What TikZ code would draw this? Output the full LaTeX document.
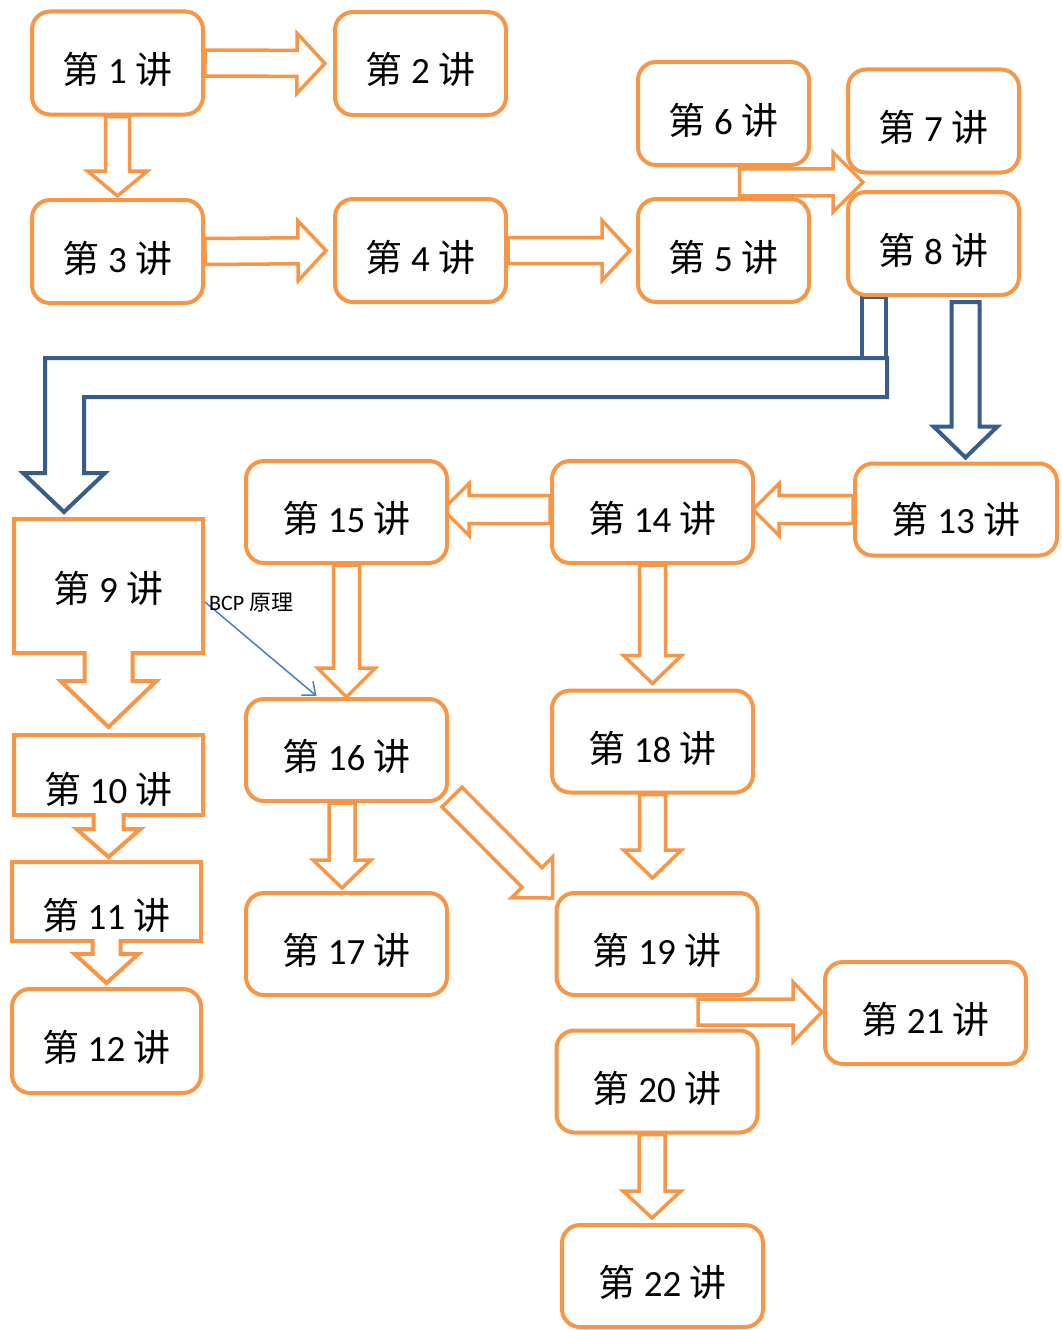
\documentclass[tikz,border=0pt]{standalone}
\usepackage{fontspec}
\setmainfont{Carlito}
\newfontfamily\cjk{Noto Sans CJK SC}
\usetikzlibrary{calc,arrows.meta}
\definecolor{lorange}{HTML}{F79646}
\definecolor{lblue}{HTML}{385D8A}
\definecolor{lthin}{HTML}{4A7EBB}
\newcommand{\jiang}[1]{{\cjk 第} #1 {\cjk 讲}}
\pgfdeclarelayer{bg}
\pgfsetlayers{bg,main}
\tikzset{
  lbox/.style={draw=lorange, line width=4pt, fill=white, rounded corners=18pt,
    minimum width=171pt, minimum height=103pt, inner sep=0pt,
    text height=41pt, text depth=0pt, font=\fontsize{37}{44}\selectfont},
  lwide/.style={minimum width=201pt, minimum height=102pt},
  callbox/.style={line width=4pt, outer sep=0pt, inner sep=0pt, minimum width=189pt,
    text height=41pt, text depth=0pt, font=\fontsize{37}{44}\selectfont},
  callline/.style={draw=lorange, line width=4pt, fill=white},
  fat w/.store in=\fatw, fat hw/.store in=\fathw,
  fat hl/.store in=\fathl, fat gap/.store in=\fatgap,
  fat w=13pt, fat hw=29pt, fat hl=28pt, fat gap=0pt,
  fatline/.style={draw=lorange, line width=3.5pt, fill=white},
  bluefat/.style={draw=lblue, line width=4pt, fill=white},
  bcpline/.style={draw=lthin, line width=1.5pt, -{Straight Barb[length=11pt,width=18pt]}},
}
% block arrow: tail, tip
\newcommand{\fatarrow}[3][]{%
  \path[#1] (#2) coordinate (fa) ($(#3)!\fatgap!(#2)$) coordinate (fb);
  \path[#1] ($(fb)!\fathl!(fa)$) coordinate (fc);
  \draw[fatline,#1] ($(fa)!\fatw!90:(fb)$) -- ($(fc)!\fatw!90:(fb)$)
    -- ($(fc)!\fathw!90:(fb)$) -- (fb) -- ($(fc)!\fathw!-90:(fb)$)
    -- ($(fc)!\fatw!-90:(fb)$) -- ($(fa)!\fatw!-90:(fb)$) -- cycle;}
% box with a down arrow under it
\newcommand{\callout}[5]{%
  \draw[callline] (#1.south east) -- ($(#1.south)+(#2,0)$) -- ++(0,#3)
    -- ++({#4-#2},0) -- ++({-#4},#5) -- ++({-#4},{-#5}) -- ++({#4-#2},0)
    -- ++(0,{-#3}) -- (#1.south west) -- (#1.north west) -- (#1.north east) -- cycle;}
\begin{document}
\begin{tikzpicture}[x=1pt, y=-1pt]
\useasboundingbox (0,0) rectangle (1062,1330);

% first row
\node[lbox] (n1) at (117.5,63) {\jiang{1}};
\node[lbox] (n2) at (420.5,63.5) {\jiang{2}};
\node[lbox] (n3) at (117.5,251.5) {\jiang{3}};
\node[lbox] (n4) at (420.5,250.5) {\jiang{4}};
\node[lbox] (n5) at (723.5,250.5) {\jiang{5}};
\node[lbox] (n6) at (723.5,113.5) {\jiang{6}};
\node[lbox] (n7) at (933.5,121) {\jiang{7}};
\node[lbox] (n8) at (933.5,243.5) {\jiang{8}};

% left column
\node[callbox, minimum height=134pt, text height=32pt] (n9) at (108.5,586) {\jiang{9}};
\node[callbox, minimum height=80pt, text height=56pt] (n10) at (108.5,775) {\jiang{10}};
\node[callbox, minimum height=79pt, text height=56pt] (n11) at (106.5,901.5) {\jiang{11}};
\node[lbox, minimum width=189pt, minimum height=104pt] (n12) at (106.5,1041) {\jiang{12}};

% the rest
\node[lbox, minimum width=202pt, minimum height=92pt, text height=48pt] (n13) at (956,509.5) {\jiang{13}};
\node[lbox, lwide] (n14) at (652.5,512) {\jiang{14}};
\node[lbox, lwide] (n15) at (346.5,512) {\jiang{15}};
\node[lbox, lwide] (n16) at (346.5,750) {\jiang{16}};
\node[lbox, lwide] (n17) at (346.5,944) {\jiang{17}};
\node[lbox, lwide] (n18) at (652.5,741.5) {\jiang{18}};
\node[lbox, lwide] (n19) at (657,944) {\jiang{19}};
\node[lbox, lwide] (n20) at (657,1081.5) {\jiang{20}};
\node[lbox, lwide] (n21) at (925.5,1013) {\jiang{21}};
\node[lbox, lwide] (n22) at (662.5,1276) {\jiang{22}};

\coordinate (t78) at ($(n7.south west)!.5!(n8.north west)+(17,0)$);
\coordinate (s6) at ($(t78 -| n6.south)+(16,0)$);
\coordinate (s16) at ($(n16.south east)+(3,-6)$);
\coordinate (t19) at ($(n19.north west)+(-2,7)$);
\coordinate (s17) at ($(n16.south)+(-4.5,0)$);
\coordinate (s19) at ($(n19.south)+(41,15)$);
\coordinate (s22) at ($(n20.south)+(-5,0)$);
\coordinate (s8) at ($(n8.south)+(32,5)$);
\coordinate (b1) at ($(n8.south)+(-59.5,0)$);
\coordinate (t9) at ($(n9.north)+(-44.5,-7)$);

\begin{pgfonlayer}{bg}
\fatarrow[fat gap=8pt, fat hw=30pt]{n1.east}{n2.west}
\fatarrow[fat gap=2pt, fat w=12pt, fat hl=25pt, fat hw=30pt]{n1.south}{n3.north}
\fatarrow[fat gap=7pt, fat hw=30pt]{n3.east}{n4.west}
\fatarrow[fat gap=6pt, fat hw=30pt]{n4.east}{n5.west}
\fatarrow[fat w=13.5pt, fat hw=30pt, fat hl=30pt]{s6}{t78}
\fatarrow[fat gap=-2pt, fat w=14pt, fat hw=26pt, fat hl=26pt]{n13.west}{n13.west -| n14.east}
\fatarrow[fat gap=-6pt, fat w=14pt, fat hw=26pt, fat hl=26pt]{n13.west -| n14.west}{n13.west -| n15.east}
\fatarrow[fat hl=29pt]{n15.south}{n15.south |- n16.north}
\fatarrow[fat gap=5pt]{n14.south}{n18.north}
\fatarrow[fat gap=13pt]{n18.south}{n18.south |- n19.north}
\fatarrow[fat gap=3pt]{s17}{s17 |- n17.north}
\fatarrow[fat w=14pt, fat hl=29pt]{s16}{t19}
\fatarrow[fat gap=1pt, fat hw=30pt, fat hl=29pt]{s19}{s19 -| n21.west}
\fatarrow[fat gap=5pt, fat hl=27pt]{s22}{s22 |- n22.north}
\fatarrow[bluefat, fat gap=4pt, fat w=14pt, fat hw=32pt, fat hl=31pt]{s8}{s8 |- n13.north}
\draw[bluefat] ($(b1)+(-12,0)$) rectangle ($(b1)+(12,61)$);
\draw[bluefat] (t9) -- ++(41,-39) -- ++(-21,0) |- ($(b1)+(13,100)$) -- ++(0,-39)
  -| ($(t9)+(-19,-39)$) -- ++(-22,0) -- cycle;
\callout{n9}{24}{28}{48}{46}
\callout{n10}{15}{14}{32}{28}
\callout{n11}{14}{13}{32}{29}
\end{pgfonlayer}

\coordinate (bcpa) at ($(n9.east)+(2,16)$);
\coordinate (bcpb) at ($(n16.north)+(-30,-1)$);
\draw[bcpline] (bcpa) -- (bcpb);
\node[anchor=west, inner sep=0pt, font=\fontsize{22}{26}\selectfont] (bcp) at ($(bcpa)+(4,1)$) {BCP {\cjk 原理}};
\end{tikzpicture}
\end{document}
